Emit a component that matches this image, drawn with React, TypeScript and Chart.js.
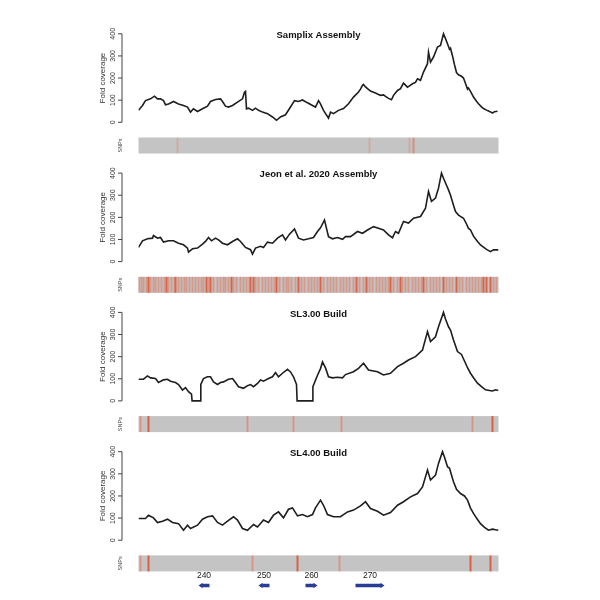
import React, { useEffect, useRef } from 'react';
import { Chart, registerables } from 'chart.js';
Chart.register(...registerables);

// ---------------- DATA ----------------
const panelTitles = ['Samplix Assembly', 'Jeon et al. 2020 Assembly', 'SL3.00 Build', 'SL4.00 Build'];
const yTicks = [0, 100, 200, 300, 400];

const samplixPos = [0,4,7,12,16,19,22,25,27,30,35,40,45,49,52,55,59,64,69,72,77,82,84,87,90,94,99,104,106,107,108,110,114,117,120,124,129,134,138,142,147,152,156,160,164,169,174,177,180,182,185,190,192,195,200,205,210,215,220,222,224,225,227,229,232,235,237,240,242,245,247,250,253,255,259,262,265,269,271,274,277,279,282,285,289,290,292,295,299,302,305,307,309,311,312,314,316,318,320,323,325,327,329,330,332,335,338,340,343,345,348,350,352,354,356,359];
const samplixCov = [54,76,98,106,118,106,106,98,79,83,94,83,76,69,46,61,49,61,73,94,103,106,94,73,69,76,91,106,136,140,61,64,54,64,54,46,39,24,9,24,34,69,98,94,101,88,76,69,98,83,54,19,46,39,54,62,84,114,137,150,167,171,160,152,141,136,132,126,122,124,117,108,102,122,144,152,177,159,165,174,180,197,190,227,265,317,272,295,340,347,400,378,355,330,335,300,260,225,215,208,200,175,150,155,140,114,95,84,70,62,55,51,47,42,48,50];

const jeonPos = [0,4,9,14,15,19,22,25,30,35,40,45,49,50,54,59,64,67,70,73,77,80,84,89,94,99,102,107,112,114,117,122,125,129,134,139,144,147,151,156,160,165,170,175,179,182,186,190,194,199,204,207,212,219,224,229,235,240,245,250,254,257,260,265,270,275,282,287,290,293,297,300,303,305,308,310,312,315,317,320,325,328,330,332,335,339,342,345,348,352,355,360];
const jeonCov = [64,94,103,106,118,106,109,88,94,94,83,76,61,43,58,61,79,91,109,94,106,98,83,76,91,103,91,64,54,34,61,69,64,88,83,106,121,98,124,148,106,98,103,109,136,153,188,113,103,109,101,113,113,136,128,143,158,151,143,121,108,136,128,181,174,196,204,241,317,272,287,332,400,377,345,324,300,255,226,210,196,170,150,143,115,91,75,65,55,45,53,53];

const sl3Pos = [0,5,9,12,17,20,25,29,32,37,40,44,47,50,53,53.6,62,62.3,65,69,72,75,79,82,85,90,94,97,100,105,109,112,115,119,122,125,130,134,137,140,144,149,152,155,158,158.6,174,174.4,179,182,184,187,190,194,199,204,207,215,220,225,230,239,245,252,259,265,270,277,284,289,292,297,300,305,307,310,312,315,319,323,327,329,332,335,339,343,347,351,354,357,360];
const sl3Cov = [98,98,113,104,101,83,95,98,89,83,74,49,60,42,30,0,0,74,101,109,109,86,74,83,86,98,101,83,64,57,69,74,64,79,95,89,101,109,128,109,125,143,131,109,74,0,0,64,116,146,176,149,109,104,107,104,119,132,147,170,140,132,117,125,155,170,185,200,230,313,268,290,335,400,370,335,320,275,223,210,170,150,125,105,80,65,50,47,45,50,47];

const sl4Pos = [0,7,10,15,19,24,29,34,40,45,49,52,59,64,69,74,79,84,89,95,99,104,109,115,119,125,130,135,140,145,150,154,159,164,169,174,177,182,185,189,195,202,209,215,222,227,232,239,245,252,259,265,272,279,284,289,292,297,300,304,306,309,311,315,318,322,326,329,332,335,338,342,346,350,354,357,360];
const sl4Cov = [98,98,113,101,80,86,95,80,75,45,68,53,68,95,106,110,80,68,86,106,91,53,45,71,60,91,80,113,128,101,140,146,110,116,106,116,146,181,158,116,106,106,128,136,155,174,143,131,113,125,158,174,196,211,241,317,272,294,347,400,375,332,325,264,230,211,200,181,145,121,100,75,58,45,50,47,45];

// SNP positions (same coordinate as coverage positions)
const samplixSnpFaint = [39, 231, 271];
const samplixSnpStrong = [275];
const jeonSnpFaint = [0.5,3,5,8,12,15,17,20,23,26,30,33,36,40,43,46,48,51,54,57,60,63,65,70,75,79,82,85,87,90,95,98,102,105,108,111,117,120,124,127,130,133,136,141,145,148,150,153,157,163,166,170,173,176,179,185,189,192,195,198,202,205,208,211,215,221,225,231,234,238,241,244,247,250,255,259,264,267,270,274,277,280,283,288,292,295,298,301,308,311,314,321,324,328,331,334,337,340,343,355,358];
const jeonSnpStrong = [10,28,37,68,72,93,112,115,138,160,182,218,228,252,262,285,305,318,345,348,352];
const sl3SnpFaint = [2, 109, 155, 203, 334];
const sl3SnpStrong = [10, 354];
const sl4SnpFaint = [2, 114, 201];
const sl4SnpStrong = [10, 159, 332, 352];

const geneLabels = ['240', '250', '260', '270'];
const geneStart = [60, 120, 167, 217];
const geneEnd = [71, 131, 179, 246];
const geneStrand = [-1, -1, 1, 1];

const panelPos = [samplixPos, jeonPos, sl3Pos, sl4Pos];
const panelCov = [samplixCov, jeonCov, sl3Cov, sl4Cov];
const panelSnpFaint = [samplixSnpFaint, jeonSnpFaint, sl3SnpFaint, sl4SnpFaint];
const panelSnpStrong = [samplixSnpStrong, jeonSnpStrong, sl3SnpStrong, sl4SnpStrong];
const faintColors = ['rgba(228,112,84,0.3)', 'rgba(228,112,84,0.5)', 'rgba(228,112,84,0.55)', 'rgba(228,112,84,0.55)'];
const strongColors = ['rgba(228,100,70,0.55)', 'rgba(222,84,52,0.85)', 'rgba(222,84,52,0.9)', 'rgba(222,84,52,0.9)'];

// ---------------- LAYOUT ----------------
const W = 600, H = 600;
const X_MIN = 0, X_MAX = 360;
const PLOT_LEFT = 138.5, PLOT_RIGHT = 498.5;
const Y_MIN = -16, Y_MAX = 416;
const ZERO_Y0 = 122.3, PANEL_STEP = 139.3;
const PX_PER_UNIT = 88.5 / 400;
const FONT = '"Liberation Sans", Arial, sans-serif';

function coverageAxisPlugin(title: string) {
  return {
    id: 'coverageAxis',
    afterDraw(chart: any) {
      const { ctx, chartArea } = chart;
      const y = chart.scales.y;
      const axX = chartArea.left - 16.5;
      ctx.save();
      ctx.strokeStyle = '#444';
      ctx.lineWidth = 1;
      ctx.beginPath();
      ctx.moveTo(axX, y.getPixelForValue(yTicks[0]));
      ctx.lineTo(axX, y.getPixelForValue(yTicks[yTicks.length - 1]));
      for (const t of yTicks) {
        const py = y.getPixelForValue(t);
        ctx.moveTo(axX, py);
        ctx.lineTo(axX - 4, py);
      }
      ctx.stroke();
      ctx.fillStyle = '#333';
      ctx.font = `7px ${FONT}`;
      ctx.textAlign = 'center';
      ctx.textBaseline = 'middle';
      for (const t of yTicks) {
        const py = y.getPixelForValue(t);
        ctx.save();
        ctx.translate(axX - 8.5, py);
        ctx.rotate(-Math.PI / 2);
        ctx.fillText(String(t), 0, 0);
        ctx.restore();
      }
      ctx.font = `8px ${FONT}`;
      ctx.save();
      ctx.translate(chartArea.left - 35.5, y.getPixelForValue(200));
      ctx.rotate(-Math.PI / 2);
      ctx.fillText('Fold coverage', 0, 0);
      ctx.restore();
      ctx.fillStyle = '#111';
      ctx.font = `bold 9.5px ${FONT}`;
      ctx.fillText(title, (chartArea.left + chartArea.right) / 2, y.getPixelForValue(400) + 1.5);
      ctx.restore();
    },
  };
}

const stripPlugin = {
  id: 'snpStrip',
  beforeDatasetsDraw(chart: any) {
    const { ctx, chartArea } = chart;
    ctx.save();
    ctx.fillStyle = '#c4c4c4';
    ctx.fillRect(chartArea.left, chartArea.top, chartArea.right - chartArea.left, chartArea.bottom - chartArea.top);
    ctx.restore();
  },
  afterDraw(chart: any) {
    const { ctx, chartArea } = chart;
    ctx.save();
    ctx.fillStyle = '#444';
    ctx.font = `5.5px ${FONT}`;
    ctx.textAlign = 'center';
    ctx.textBaseline = 'middle';
    ctx.translate(chartArea.left - 18, (chartArea.top + chartArea.bottom) / 2);
    ctx.rotate(-Math.PI / 2);
    ctx.fillText('SNPs', 0, 0);
    ctx.restore();
  },
};

const genePlugin = {
  id: 'genes',
  afterDraw(chart: any) {
    const { ctx, chartArea } = chart;
    const x = chart.scales.x;
    const yL = chartArea.top + 6;
    const yA = chartArea.top + 15.5;
    ctx.save();
    ctx.font = `8.5px ${FONT}`;
    ctx.textAlign = 'center';
    ctx.textBaseline = 'middle';
    geneLabels.forEach((lab, i) => {
      const s = x.getPixelForValue(geneStart[i]);
      const e = x.getPixelForValue(geneEnd[i]);
      ctx.fillStyle = '#222';
      ctx.fillText(lab, (s + e) / 2, yL);
      ctx.fillStyle = '#2a3d96';
      const hl = 4, sh = 1.8, hh = 2.8;
      ctx.beginPath();
      if (geneStrand[i] > 0) {
        ctx.moveTo(s, yA - sh);
        ctx.lineTo(e - hl, yA - sh);
        ctx.lineTo(e - hl, yA - hh);
        ctx.lineTo(e, yA);
        ctx.lineTo(e - hl, yA + hh);
        ctx.lineTo(e - hl, yA + sh);
        ctx.lineTo(s, yA + sh);
      } else {
        ctx.moveTo(e, yA - sh);
        ctx.lineTo(s + hl, yA - sh);
        ctx.lineTo(s + hl, yA - hh);
        ctx.lineTo(s, yA);
        ctx.lineTo(s + hl, yA + hh);
        ctx.lineTo(s + hl, yA + sh);
        ctx.lineTo(e, yA + sh);
      }
      ctx.closePath();
      ctx.fill();
    });
    ctx.restore();
  },
};

const xScale = { type: 'linear', min: X_MIN, max: X_MAX, offset: false, display: false, grid: { offset: false } };

export default function App() {
  const lineRefs = useRef<(HTMLCanvasElement | null)[]>([]);
  const stripRefs = useRef<(HTMLCanvasElement | null)[]>([]);
  const geneRef = useRef<HTMLCanvasElement | null>(null);

  useEffect(() => {
    const charts: Chart[] = [];
    for (let i = 0; i < 4; i++) {
      const zero = ZERO_Y0 + i * PANEL_STEP;
      const top = zero - Y_MAX * PX_PER_UNIT;
      const bottom = zero - Y_MIN * PX_PER_UNIT;
      const lc = lineRefs.current[i];
      if (lc) {
        charts.push(
          new Chart(lc, {
            type: 'line',
            data: {
              datasets: [
                {
                  data: panelPos[i].map((p, j) => ({ x: p, y: panelCov[i][j] })),
                  borderColor: '#1e1e1e',
                  borderWidth: 1.6,
                  pointRadius: 0,
                  tension: 0,
                  fill: false,
                },
              ],
            },
            options: {
              responsive: false,
              animation: false,
              events: [],
              layout: { padding: { left: PLOT_LEFT, right: W - PLOT_RIGHT, top, bottom: H - bottom } },
              scales: { x: xScale as any, y: { min: Y_MIN, max: Y_MAX, display: false } },
              plugins: { legend: { display: false }, tooltip: { enabled: false }, title: { display: false } },
            },
            plugins: [coverageAxisPlugin(panelTitles[i])],
          } as any)
        );
      }
      const sc = stripRefs.current[i];
      if (sc) {
        const sTop = zero + 15.2;
        const sBottom = zero + 31.2;
        charts.push(
          new Chart(sc, {
            type: 'bar',
            data: {
              datasets: [
                {
                  data: panelSnpFaint[i].map((p) => ({ x: p, y: 1 })),
                  backgroundColor: faintColors[i],
                  barThickness: 1.2,
                  grouped: false,
                },
                {
                  data: panelSnpStrong[i].map((p) => ({ x: p, y: 1 })),
                  backgroundColor: strongColors[i],
                  barThickness: 1.3,
                  grouped: false,
                },
              ],
            },
            options: {
              responsive: false,
              animation: false,
              events: [],
              layout: { padding: { left: PLOT_LEFT, right: W - PLOT_RIGHT, top: sTop, bottom: H - sBottom } },
              scales: { x: xScale as any, y: { min: 0, max: 1, display: false } },
              plugins: { legend: { display: false }, tooltip: { enabled: false } },
            },
            plugins: [stripPlugin],
          } as any)
        );
      }
    }
    if (geneRef.current) {
      charts.push(
        new Chart(geneRef.current, {
          type: 'scatter',
          data: {
            datasets: [
              {
                data: geneStart.map((s, i) => ({ x: (s + geneEnd[i]) / 2, y: 0 })),
                pointRadius: 0,
              },
            ],
          },
          options: {
            responsive: false,
            animation: false,
            events: [],
            layout: { padding: { left: PLOT_LEFT, right: W - PLOT_RIGHT, top: 570, bottom: 5 } },
            scales: { x: xScale as any, y: { min: -1, max: 1, display: false } },
            plugins: { legend: { display: false }, tooltip: { enabled: false } },
          },
          plugins: [genePlugin],
        } as any)
      );
    }
    return () => charts.forEach((c) => c.destroy());
  }, []);

  const canvasStyle: React.CSSProperties = { position: 'absolute', left: 0, top: 0, width: W, height: H };
  return (
    <div style={{ position: 'absolute', left: 0, top: 0, width: W, height: H, background: '#fff' }}>
      {[0, 1, 2, 3].map((i) => (
        <canvas key={'l' + i} ref={(el) => { lineRefs.current[i] = el; }} width={W} height={H} style={canvasStyle} />
      ))}
      {[0, 1, 2, 3].map((i) => (
        <canvas key={'s' + i} ref={(el) => { stripRefs.current[i] = el; }} width={W} height={H} style={canvasStyle} />
      ))}
      <canvas ref={geneRef} width={W} height={H} style={canvasStyle} />
    </div>
  );
}
